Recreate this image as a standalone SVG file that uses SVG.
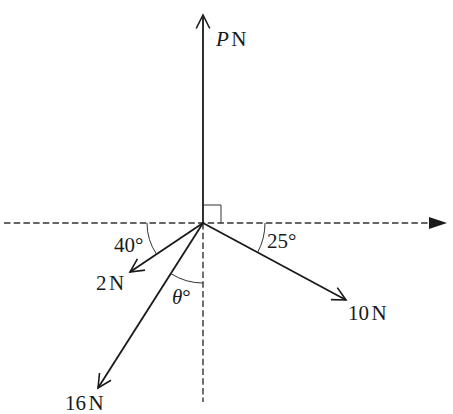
<svg xmlns="http://www.w3.org/2000/svg" width="453" height="414" viewBox="0 0 453 414">
<style>
.vec{stroke:#1a1a1a;stroke-width:1.8;fill:none;marker-end:url(#open)}
.dash{stroke:#333;stroke-width:1.4;fill:none;stroke-dasharray:6.5 3.2}
.thin{stroke:#333;stroke-width:1;fill:none}
text{font-family:"Liberation Serif","Times New Roman",serif;font-size:21px;fill:#1a1a1a}
.it{font-style:italic}
</style>
<defs>
<marker id="open" markerWidth="20" markerHeight="20" refX="15" refY="10" orient="auto" markerUnits="userSpaceOnUse">
<path d="M1.5,3.2 L15,10 L1.5,16.8" fill="none" stroke="#1a1a1a" stroke-width="1.6"/>
</marker>
</defs>
<rect width="453" height="414" fill="#fff"/>
<g id="axes">
<line class="dash" x1="4" y1="223" x2="431" y2="223"/>
<path d="M429,217 L447,223 L429,229 Z" fill="#1a1a1a"/>
<line class="dash" x1="203" y1="223" x2="203" y2="402"/>
<path class="thin" d="M203,205 H221 V223"/>
</g>
<g id="connectors">
<line class="vec" x1="203" y1="223" x2="203" y2="15"/>
<line class="vec" x1="203" y1="223" x2="346" y2="300"/>
<line class="vec" x1="203" y1="223" x2="130" y2="272"/>
<line class="vec" x1="203" y1="223" x2="98" y2="388"/>
</g>
<g id="arcs">
<path class="thin" d="M147,223 A56,56 0 0 0 156.7,254.5"/>
<path class="thin" d="M265,223 A62,62 0 0 1 257.6,252.4"/>
<path class="thin" d="M170.8,273.6 A60,60 0 0 0 203,283"/>
</g>
<g id="labels">
<text x="216" y="46"><tspan class="it">P</tspan><tspan dx="2.5">N</tspan></text>
<text x="348" y="320">10<tspan dx="2.5">N</tspan></text>
<text x="65" y="410">16<tspan dx="2.5">N</tspan></text>
<text x="96" y="290">2<tspan dx="2.5">N</tspan></text>
<text x="114" y="252">40°</text>
<text x="267" y="248">25°</text>
<text x="172" y="304"><tspan class="it">θ</tspan>°</text>
</g>
</svg>
